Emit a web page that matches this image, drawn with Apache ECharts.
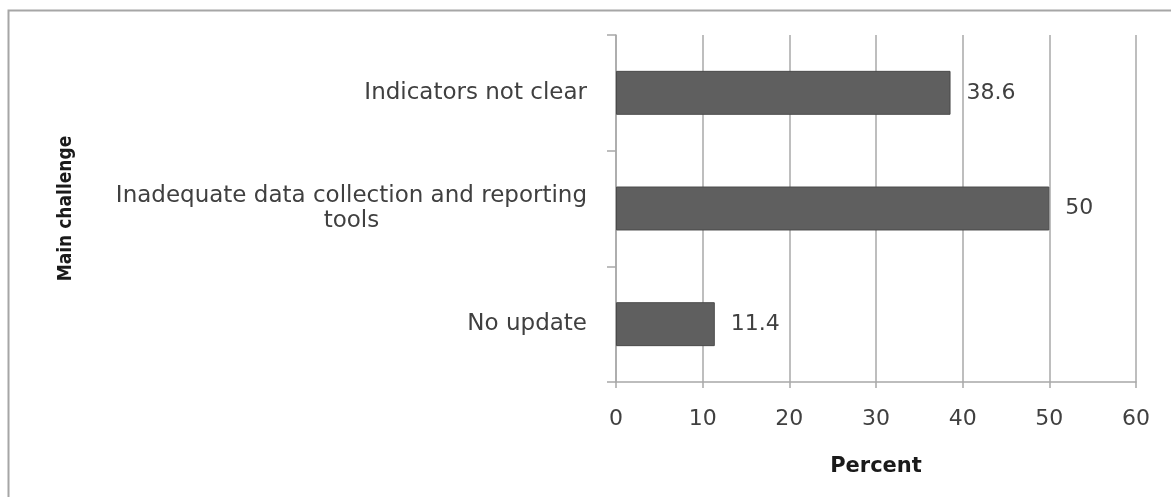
<!DOCTYPE html>
<html>
<head>
<meta charset="utf-8">
<title>Main challenge</title>
<script src="https://cdn.jsdelivr.net/npm/echarts@6/dist/echarts.min.js"></script>
<style>
  html, body { margin: 0; padding: 0; background: #ffffff; }
  #chart { width: 1171px; height: 497px; }
</style>
</head>
<body>
<div id="chart"></div>
<script>
// Survey responses: main challenge reported, as a percent of respondents
const categories = [
  'Indicators not clear',
  'Inadequate data collection and reporting\ntools',
  'No update'
];
const percents = [38.6, 50, 11.4];
const xTicks = [0, 10, 20, 30, 40, 50, 60];

const labelFont = 'DejaVu Sans';
const gridColor = '#a8a8a8';
const textColor = '#404040';

const chart = echarts.init(document.getElementById('chart'), null, { renderer: 'canvas' });

chart.setOption({
  animation: false,
  backgroundColor: '#ffffff',
  graphic: [{
    type: 'rect',
    silent: true,
    shape: { x: 8.5, y: 10.5, width: 1300, height: 600 },
    style: { fill: 'none', stroke: '#a6a6a6', lineWidth: 2 }
  }],
  grid: { left: 616, right: 35, top: 35, bottom: 115, containLabel: false },
  xAxis: {
    type: 'value',
    min: xTicks[0],
    max: xTicks[xTicks.length - 1],
    interval: 10,
    name: 'Percent',
    nameLocation: 'middle',
    nameGap: 74,
    nameTextStyle: { fontFamily: labelFont, fontWeight: 'bold', fontSize: 21, color: '#1a1a1a' },
    axisLine: { show: true, lineStyle: { color: gridColor, width: 1.5 } },
    axisTick: { show: true, length: 6, lineStyle: { color: gridColor, width: 1.5 } },
    splitLine: { show: true, lineStyle: { color: gridColor, width: 1.5 } },
    axisLabel: { fontFamily: labelFont, fontSize: 22, color: textColor, margin: 26 }
  },
  yAxis: {
    type: 'category',
    inverse: true,
    data: categories,
    name: 'Main challenge',
    nameLocation: 'middle',
    nameRotate: 90,
    nameGap: 540,
    nameTextStyle: {
      fontFamily: '"DejaVu Sans Condensed", "Liberation Sans Narrow", sans-serif',
      fontWeight: 'bold', fontSize: 19, color: '#1a1a1a'
    },
    axisLine: { show: true, lineStyle: { color: gridColor, width: 1.5 } },
    axisTick: { show: true, length: 9, alignWithLabel: false, lineStyle: { color: gridColor, width: 1.5 } },
    splitLine: { show: false },
    axisLabel: {
      fontFamily: labelFont,
      fontSize: 23,
      color: textColor,
      margin: 29,
      lineHeight: 25,
      formatter: function (v) {
        return v.split('\n').map(function (line) { return '{c|' + line + '}'; }).join('\n');
      },
      rich: {
        c: { align: 'center', fontFamily: labelFont, fontSize: 23, color: textColor, lineHeight: 25 }
      }
    }
  },
  series: [{
    type: 'bar',
    data: percents,
    barWidth: '38%',
    itemStyle: { color: '#5f5f5f', borderColor: '#4a4a4a', borderWidth: 1 },
    label: {
      show: true,
      position: 'right',
      distance: 16,
      fontFamily: labelFont,
      fontSize: 22,
      color: textColor
    }
  }]
});
</script>
</body>
</html>
